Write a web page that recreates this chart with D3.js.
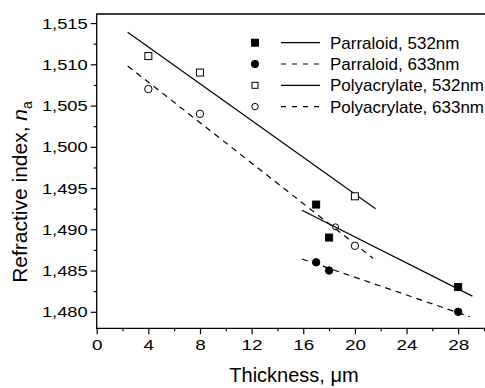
<!DOCTYPE html>
<html><head><meta charset="utf-8">
<script src="https://cdn.jsdelivr.net/npm/d3@7"></script>
<style>
body{margin:0;background:#fff;}
svg{display:block;font-family:"Liberation Sans",Arial,sans-serif;}
</style></head>
<body><svg id="c" width="485" height="388"></svg>
<script>
// ---- data ----
const seriesNames = ["Parraloid, 532nm","Parraloid, 633nm","Polyacrylate, 532nm","Polyacrylate, 633nm"];
const parraloid532X = [17, 18, 28];
const parraloid532Y = [1.493, 1.489, 1.483];
const parraloid633X = [17, 18, 28];
const parraloid633Y = [1.486, 1.485, 1.480];
const polyacrylate532X = [4, 8, 20];
const polyacrylate532Y = [1.511, 1.509, 1.494];
const polyacrylate633X = [4, 8, 20];
const polyacrylate633Y = [1.507, 1.504, 1.488];
const polyacrylate633HiddenX = [18.5];
const polyacrylate633HiddenY = [1.4903];
// fitted lines (start, end)
const fitParraloid532X = [15.9, 29.1];
const fitParraloid532Y = [1.4923, 1.4819];
const fitParraloid633X = [15.9, 28.9];
const fitParraloid633Y = [1.4864, 1.4794];
const fitPolyacrylate532X = [2.4, 21.6];
const fitPolyacrylate532Y = [1.5139, 1.4925];
const fitPolyacrylate633X = [2.4, 21.4];
const fitPolyacrylate633Y = [1.5098, 1.4865];
const xTicks = [0, 4, 8, 12, 16, 20, 24, 28];
const xMinorTicks = [2, 6, 10, 14, 18, 22, 26, 30];
const yTicks = [1.480, 1.485, 1.490, 1.495, 1.500, 1.505, 1.510, 1.515];
const yMinorTicks = [1.4825, 1.4875, 1.4925, 1.4975, 1.5025, 1.5075, 1.5125];

const svg = d3.select("#c");
const W = 485, H = 388;
const x = d3.scaleLinear().domain([0, 30]).range([96.7, 484]);
const y = d3.scaleLinear().domain([1.478, 1.5161]).range([328.3, 14]);
const fmt = d => d3.format(".3f")(d).replace(".", ",");

function stretch(sel, k) {
  sel.each(function () {
    const w = this.getComputedTextLength();
    d3.select(this).attr("textLength", w * k).attr("lengthAdjust", "spacingAndGlyphs");
  });
}

// axes
const gx = svg.append("g").attr("transform", `translate(0,${y.range()[0]})`);
gx.call(d3.axisBottom(x).tickValues(xTicks).tickSize(6).tickPadding(5).tickFormat(d3.format("d")));
const gxm = svg.append("g").attr("transform", `translate(0,${y.range()[0]})`);
gxm.call(d3.axisBottom(x).tickValues(xMinorTicks).tickSize(3).tickFormat(""));
const gy = svg.append("g").attr("transform", `translate(${x.range()[0]},0)`);
gy.call(d3.axisLeft(y).tickValues(yTicks).tickSize(6).tickPadding(3).tickFormat(fmt));
const gym = svg.append("g").attr("transform", `translate(${x.range()[0]},0)`);
gym.call(d3.axisLeft(y).tickValues(yMinorTicks).tickSize(3).tickFormat(""));
[gx, gxm, gy, gym].forEach(g => {
  g.select(".domain").remove();
  g.selectAll("line").attr("stroke", "#000").attr("stroke-width", 1.2);
});
[gx, gy].forEach(g => g.selectAll("text").attr("font-size", 15.5).attr("fill", "#000").attr("font-family", "Liberation Sans, Arial, sans-serif"));
stretch(gx.selectAll("text"), 1.22);
stretch(gy.selectAll("text"), 1.18);

// frame
svg.append("path")
  .attr("d", `M${W},${y.range()[1]}H${x.range()[0]}V${y.range()[0]}H${W}`)
  .attr("fill", "none").attr("stroke", "#000").attr("stroke-width", 1.3);

// markers
function drawMarkers(xs, ys, shape, filled, r) {
  const pts = xs.map((v, i) => [v, ys[i]]);
  if (shape === "square") {
    svg.append("g").selectAll("rect").data(pts).join("rect")
      .attr("x", d => x(d[0]) - 3.5).attr("y", d => y(d[1]) - 3.5)
      .attr("width", 7).attr("height", 7)
      .attr("fill", filled ? "#000" : "#fff").attr("stroke", "#000").attr("stroke-width", 1);
  } else {
    svg.append("g").selectAll("circle").data(pts).join("circle")
      .attr("cx", d => x(d[0])).attr("cy", d => y(d[1])).attr("r", r || 3.7)
      .attr("fill", filled ? "#000" : "#fff").attr("stroke", "#000").attr("stroke-width", 1);
  }
}
drawMarkers(polyacrylate633HiddenX, polyacrylate633HiddenY, "circle", false, 3);

// fit lines
const fits = [
  [fitPolyacrylate532X, fitPolyacrylate532Y, null],
  [fitPolyacrylate633X, fitPolyacrylate633Y, "6,5"],
  [fitParraloid532X, fitParraloid532Y, null],
  [fitParraloid633X, fitParraloid633Y, "6,5"]
];
const line = d3.line().x(d => x(d[0])).y(d => y(d[1]));
fits.forEach(([xs, ys, dash]) => {
  svg.append("path").attr("d", line(xs.map((v, i) => [v, ys[i]])))
    .attr("fill", "none").attr("stroke", "#000").attr("stroke-width", 1.2)
    .attr("stroke-dasharray", dash);
});

drawMarkers(polyacrylate532X, polyacrylate532Y, "square", false);
drawMarkers(polyacrylate633X, polyacrylate633Y, "circle", false);
drawMarkers(parraloid532X, parraloid532Y, "square", true);
drawMarkers(parraloid633X, parraloid633Y, "circle", true);

// legend
const legendStyles = [["square", true, null], ["circle", true, "6,5"], ["square", false, null], ["circle", false, "6,5"]];
const lg = svg.append("g");
seriesNames.forEach((name, i) => {
  const cy = 42.7 + i * 21.3;
  const [shape, filled, dash] = legendStyles[i];
  if (shape === "square") {
    lg.append("rect").attr("x", 255 - (filled ? 3.5 : 3)).attr("y", cy - (filled ? 3.5 : 3))
      .attr("width", filled ? 7 : 6).attr("height", filled ? 7 : 6)
      .attr("fill", filled ? "#000" : "#fff").attr("stroke", "#000").attr("stroke-width", 1);
  } else {
    lg.append("circle").attr("cx", 255).attr("cy", cy).attr("r", filled ? 3.7 : 3.2)
      .attr("fill", filled ? "#000" : "#fff").attr("stroke", "#000").attr("stroke-width", 1);
  }
  lg.append("line").attr("x1", 281).attr("x2", 320).attr("y1", cy).attr("y2", cy)
    .attr("stroke", "#000").attr("stroke-width", 1.2).attr("stroke-dasharray", dash ? "5,6" : null);
  lg.append("text").attr("x", 330).attr("y", cy + 6).attr("font-size", 17).text(name);
});

// axis titles
svg.append("text").attr("x", 294).attr("y", 382).attr("text-anchor", "middle")
  .attr("font-size", 20).text("Thickness, \u03bcm");
const yt = svg.append("text").attr("transform", "translate(27,192) rotate(-90)")
  .attr("text-anchor", "middle").attr("font-size", 21);
yt.append("tspan").text("Refractive index, ");
yt.append("tspan").attr("font-style", "italic").text("n");
yt.append("tspan").attr("font-size", 14).attr("dy", 5).text("a");
</script></body></html>
